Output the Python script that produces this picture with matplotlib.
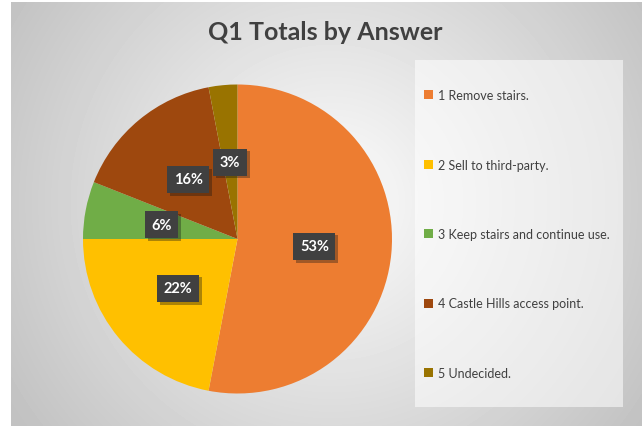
import numpy as np
import matplotlib
matplotlib.use("Agg")
import matplotlib.pyplot as plt
from matplotlib.patches import Rectangle, Patch
from matplotlib import patheffects as pe

answers = ["1 Remove stairs.", "2 Sell to third-party.", "3 Keep stairs and continue use.",
           "4 Castle Hills access point.", "5 Undecided."]
shares = [53, 22, 6, 16, 3]
colors = ["#ED7D31", "#FFC000", "#70AD47", "#9E480E", "#997300"]

plt.rcParams["font.family"] = ["Lato", "DejaVu Sans"]

W, H = 642, 427
fig = plt.figure(figsize=(W / 100, H / 100), dpi=100)
fig.patch.set_facecolor("white")

# radial grey background of the chart area
bg = fig.add_axes([11 / W, 0, (W - 11) / W, (H - 3) / H])
yy, xx = np.mgrid[0:H - 3, 0:W - 11]
d = np.hypot(xx - 320, yy - 200) / 380.0
shade = np.clip(0.99 - 0.23 * d, 0.76, 1.0)
bg.imshow(shade, cmap="gray", vmin=0, vmax=1, aspect="auto", interpolation="bilinear")
bg.axis("off")

# legend panel
fig.patches.append(Rectangle((415 / W, 1 - 408 / H), 208 / W, 347 / H, transform=fig.transFigure,
                             facecolor="white", alpha=0.55, edgecolor="none", zorder=1))

fig.text(325 / W, 1 - 33 / H, "Q1 Totals by Answer", ha="center", va="center",
         fontsize=18, fontweight="bold", color="#404040")

r = 154.5
ax = fig.add_axes([(237.5 - r) / W, 1 - (240 + r) / H, 2 * r / W, 2 * r / H])
wedges, texts, autotexts = ax.pie(shares, colors=colors, startangle=90, counterclock=False,
                                  autopct=lambda p: f"{round(p)}%", pctdistance=0.5, radius=1,
                                  wedgeprops=dict(linewidth=0))
for t in autotexts:
    t.set_color("white")
    t.set_fontweight("bold")
    t.set_fontsize(10.5)
    t.set_bbox(dict(boxstyle="square,pad=0.45", facecolor="#404040", edgecolor="none"))
    t.get_bbox_patch().set_path_effects([pe.SimplePatchShadow(offset=(2, -2), alpha=0.35), pe.Normal()])
ax.set_xlim(-1, 1)
ax.set_ylim(-1, 1)
ax.set_aspect("equal")

handles = [Patch(facecolor=c, edgecolor="none") for c in colors]
fig.legend(handles, answers, loc="upper left", bbox_to_anchor=(424 / W, 1 - 90 / H),
           frameon=False, fontsize=9, labelcolor="#404040", handlelength=0.7, handleheight=0.7,
           handletextpad=0.4, labelspacing=4.6, borderaxespad=0, borderpad=0)

fig.savefig("out.png", dpi=100)
